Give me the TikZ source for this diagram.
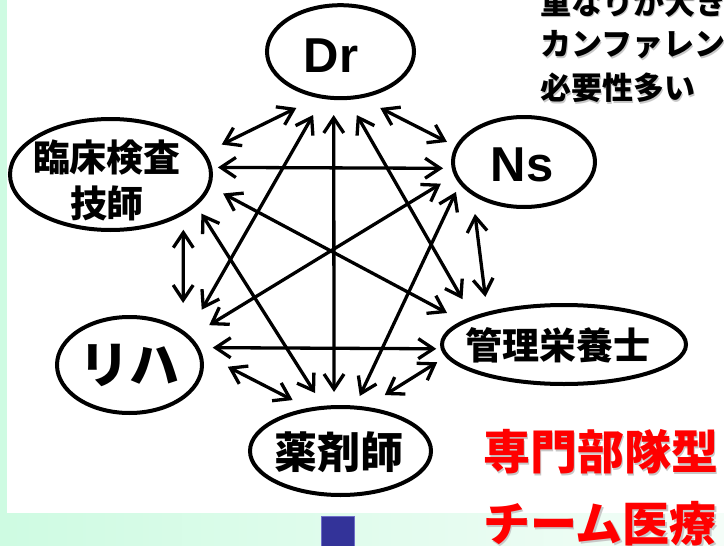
\documentclass[tikz,border=0pt]{standalone}
\usepackage{fontspec}
\newfontfamily\jp{Noto Sans CJK JP}
\newfontfamily\lat{Liberation Sans}
\usetikzlibrary{arrows.meta,shapes.geometric}
\definecolor{mintA}{RGB}{206,251,226}
\definecolor{mintB}{RGB}{244,253,248}
\definecolor{sqblue}{RGB}{51,51,153}
\definecolor{sqedge}{RGB}{110,110,200}
\definecolor{shadowgray}{RGB}{200,200,200}
\tikzset{
  ell/.style={draw, ellipse, line width=4pt, inner sep=0pt, fill=white},
  jlab/.style={font=\jp\bfseries, inner sep=0pt, align=center},
  llab/.style={font=\lat\bfseries\fontsize{49}{49}\selectfont, inner sep=0pt},
  dbl/.style={line width=3.3pt, >={Straight Barb[length=15pt,width=20pt]}, <->},
  note/.style={font=\jp\bfseries\fontsize{31}{31}\selectfont, inner sep=0pt, anchor=west},
  redt/.style={font=\jp\bfseries\fontsize{47}{47}\selectfont, inner sep=0pt, anchor=west, text=red},
}
\begin{document}
\begin{tikzpicture}[x=1pt,y=-1pt]
\useasboundingbox (0,0) rectangle (724,546);
\clip (0,0) rectangle (724,546);
% background
\fill[left color=mintA, right color=mintB] (0,0) rectangle (724,546);
\fill[white] (6.7,0) rectangle (724,512.7);
\filldraw[fill=sqblue, draw=sqedge, line width=1pt] (321,516.5) rectangle (354,547);

% top-right note (clipped at the picture edge)
\foreach \yy/\tt [count=\i] in {2/重なりが大き, 45/カンファレンス, 88/必要性多い}{
  \node[note, text=shadowgray] (noteS\i) at (541.5,\yy+1.5) {\tt};
  \node[note] (note\i) at (540,\yy) {\tt};
}

% red title
\node[redt, text=shadowgray] (red1s) at (484.5,453.5) {専門部隊型};
\node[redt] (red1) at (483,452) {専門部隊型};
\node[redt, text=shadowgray] (red2s) at (484.5,525.5) {チーム医療};
\node[redt] (red2) at (483,524) {チーム医療};

% ellipses
\node[ell, minimum width=147pt, minimum height=93pt] (Dr) at (340.5,51.7) {};
\node[ell, minimum width=142pt, minimum height=90pt] (Ns) at (524,162) {};
\node[ell, minimum width=244pt, minimum height=79pt] (Kan) at (564,344.5) {};
\node[ell, minimum width=145pt, minimum height=96pt] (Riha) at (129.5,365) {};
\node[ell, minimum width=181pt, minimum height=88pt] (Yaku) at (340.5,451) {};
\node[ell, minimum width=201pt, minimum height=111pt] (Rin) at (110.5,174.5) {};

% labels
\node[llab, anchor=base] (DrT) at (331,72.7) {Dr};
\node[llab, anchor=base] (NsT) at (522,181.7) {Ns};
\node[jlab, font=\jp\bfseries\fontsize{37}{37}\selectfont] (KanT) at (558,345) {管理栄養士};
\node[jlab, font=\jp\bfseries\fontsize{50}{50}\selectfont] (RihaT) at (129,365.5) {リハ};
\node[jlab, font=\jp\bfseries\fontsize{43}{43}\selectfont] (YakuT) at (338.5,452.5) {薬剤師};
\node[jlab, font=\jp\bfseries\fontsize{37}{46}\selectfont] (RinT) at (107,180) {臨床検査\\技師};

% connectors
\draw[dbl, shorten <=23pt, shorten >=18.3pt] (Dr.243) -- (Rin.13);
\draw[dbl, shorten <=18.7pt, shorten >=27.9pt] (Dr.249) -- (Riha.28);
\draw[dbl, shorten <=15pt, shorten >=13.1pt] (Dr.262) -- (Yaku.98);
\draw[dbl, shorten <=17.4pt, shorten >=20pt] (Dr.279) -- (Kan.163);
\draw[dbl, shorten <=21.3pt, shorten >=9.3pt] (Dr.294) -- (Ns.167);
\draw[dbl, shorten <=5.7pt, shorten >=8.6pt] (Rin.4) -- (Ns.185);
\draw[dbl, shorten <=14.2pt, shorten >=16.9pt] (Rin.353) -- (Kan.167);
\draw[dbl, shorten <=15.5pt, shorten >=21.7pt] (Ns.191) -- (Riha.25);
\draw[dbl, shorten <=8.6pt, shorten >=10.6pt] (Ns.199) -- (Yaku.72);
\draw[dbl, shorten <=18.7pt, shorten >=15.1pt] (Ns.213) -- (Kan.157);
\draw[dbl, shorten <=14.8pt, shorten >=27.2pt] (Rin.331) -- (Riha.33);
\draw[dbl, shorten <=9.2pt, shorten >=15.1pt] (Rin.340) -- (Yaku.111);
\draw[dbl, shorten <=13.4pt, shorten >=4.4pt] (Riha.14) -- (Kan.182);
\draw[dbl, shorten <=29pt, shorten >=17.3pt] (Riha.9) -- (Yaku.127);
\draw[dbl, shorten <=10pt, shorten >=22.1pt] (Kan.186) -- (Yaku.60);
\end{tikzpicture}
\end{document}
